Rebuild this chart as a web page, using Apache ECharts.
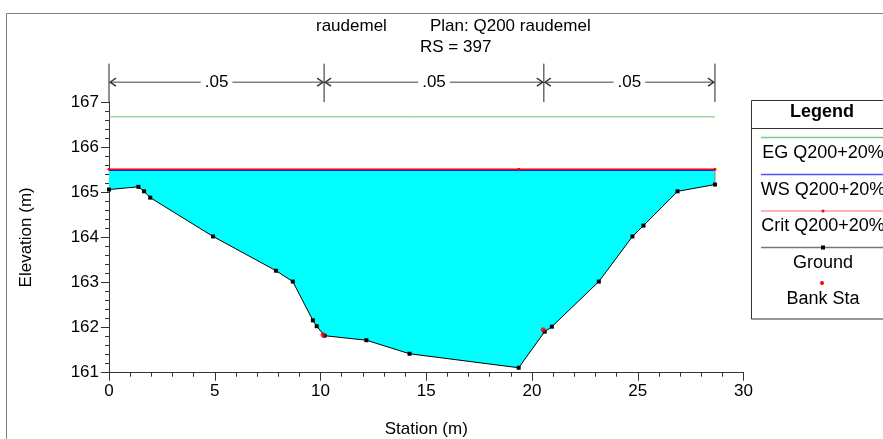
<!DOCTYPE html>
<html>
<head>
<meta charset="utf-8">
<script src="https://cdn.jsdelivr.net/npm/echarts@6/dist/echarts.min.js"></script>
<style>
  html, body { margin: 0; padding: 0; background: #fff; }
  #chart { width: 883px; height: 439px; }
</style>
</head>
<body>
<div id="chart"></div>
<script>
// ground points of the cross section
var stations = [0, 1.39, 1.66, 1.95, 4.92, 7.90, 8.69, 9.64, 9.82, 10.19, 12.17, 14.21, 19.37, 20.60, 20.94, 23.16, 24.75, 25.27, 26.88, 28.65];
var elevations = [165.06, 165.12, 165.02, 164.88, 164.02, 163.26, 163.02, 162.16, 162.03, 161.82, 161.72, 161.42, 161.11, 161.91, 162.02, 163.02, 164.02, 164.26, 165.02, 165.17];
// bank stations
var bankSta = [10.12, 20.53];
var bankElev = [161.84, 161.95];
// water levels
var wsElev = 165.49;
var critElev = 165.51;
var egElev = 166.67;
var critSta = [0, 19.37, 28.65];
// manning n segments
var nStations = [0, 10.17, 20.56, 28.65];
var nValues = ['.05', '.05', '.05'];
var dimY = 167.44, dimTop = 167.85, dimBottom = 167;
// axis ticks
var xTicks = [0, 30, 5];
var yTicks = [161, 167, 1];
// legend rows
var legendNames = ['EG Q200+20%', 'WS Q200+20%', 'Crit Q200+20%', 'Ground', 'Bank Sta'];

var FONT = '"Liberation Sans", Arial, sans-serif';
var xEnd = stations[stations.length - 1];

var ground = stations.map(function (s, i) { return [s, elevations[i]]; });
var banks = bankSta.map(function (s, i) { return [s, bankElev[i]]; });

var myChart = echarts.init(document.getElementById('chart'));

function waterRender(params, api) {
  if (params.dataIndex !== 0) return;
  var pts = [api.coord([0, wsElev]), api.coord([xEnd, wsElev])];
  for (var i = ground.length - 1; i >= 0; i--) {
    pts.push(api.coord(ground[i]));
  }
  return { type: 'polygon', shape: { points: pts }, style: { fill: '#00ffff', stroke: null } };
}

function dimRender(params, api) {
  if (params.dataIndex !== 0) return;
  var children = [];
  var yA = api.coord([0, dimY])[1];
  var yT = api.coord([0, dimTop])[1];
  var yB = api.coord([0, dimBottom])[1];
  nStations.forEach(function (s) {
    var x = api.coord([s, dimY])[0];
    children.push({ type: 'line', shape: { x1: x, y1: yT, x2: x, y2: yB }, style: { stroke: '#222', lineWidth: 1 } });
  });
  for (var i = 0; i < nValues.length; i++) {
    var xa = api.coord([nStations[i], dimY])[0];
    var xb = api.coord([nStations[i + 1], dimY])[0];
    children.push({ type: 'line', shape: { x1: xa + 1, y1: yA, x2: xb - 1, y2: yA }, style: { stroke: '#808080', lineWidth: 1.5 } });
    children.push({ type: 'polyline', shape: { points: [[xa + 7, yA - 4], [xa + 1, yA], [xa + 7, yA + 4]] }, style: { stroke: '#333', fill: null, lineWidth: 1.3 } });
    children.push({ type: 'polyline', shape: { points: [[xb - 7, yA - 4], [xb - 1, yA], [xb - 7, yA + 4]] }, style: { stroke: '#333', fill: null, lineWidth: 1.3 } });
    children.push({
      type: 'text',
      style: {
        text: nValues[i], x: (xa + xb) / 2, y: yA, align: 'center', verticalAlign: 'middle',
        font: '17px ' + FONT, fill: '#000', backgroundColor: '#fff', padding: [0, 4]
      }
    });
  }
  return { type: 'group', children: children };
}

// legend box (drawn as graphic)
var lgX = 751.5, lgCx = 823;
var lgLineY = [137.5, 174.5, 211, 247.5];
var lgTextY = [153, 190, 226, 263, 299];
var legendGraphic = [
  { type: 'rect', shape: { x: 6.5, y: 13.5, width: 1000, height: 1000 }, style: { stroke: '#808080', fill: null, lineWidth: 1 }, z: 0 },
  { type: 'rect', shape: { x: lgX, y: 100.5, width: 200, height: 218.5 }, style: { stroke: '#333', fill: '#fff', lineWidth: 1 } },
  { type: 'line', shape: { x1: lgX, y1: 128.5, x2: 883, y2: 128.5 }, style: { stroke: '#333', lineWidth: 1 } },
  { type: 'text', style: { text: 'Legend', x: lgCx - 1, y: 112, align: 'center', verticalAlign: 'middle', font: 'bold 18px ' + FONT, fill: '#000' } },
  { type: 'line', shape: { x1: 761, y1: lgLineY[0], x2: 883, y2: lgLineY[0] }, style: { stroke: '#80c880', lineWidth: 1.5 } },
  { type: 'line', shape: { x1: 761, y1: lgLineY[1], x2: 883, y2: lgLineY[1] }, style: { stroke: '#5050ff', lineWidth: 1.5 } },
  { type: 'line', shape: { x1: 761, y1: lgLineY[2], x2: 883, y2: lgLineY[2] }, style: { stroke: '#ff9a9a', lineWidth: 1.5 } },
  { type: 'circle', shape: { cx: lgCx, cy: lgLineY[2], r: 1.5 }, style: { fill: '#ff0000' } },
  { type: 'line', shape: { x1: 761, y1: lgLineY[3], x2: 883, y2: lgLineY[3] }, style: { stroke: '#777', lineWidth: 1.5 } },
  { type: 'rect', shape: { x: lgCx - 2, y: lgLineY[3] - 2, width: 4, height: 4 }, style: { fill: '#000' } },
  { type: 'circle', shape: { cx: lgCx - 1, cy: 283, r: 2 }, style: { fill: '#ff0000' } }
];
legendNames.forEach(function (name, i) {
  legendGraphic.push({ type: 'text', style: { text: name, x: lgCx, y: lgTextY[i], align: 'center', verticalAlign: 'middle', font: '18px ' + FONT, fill: '#000' } });
});

myChart.setOption({
  animation: false,
  backgroundColor: '#fff',
  textStyle: { fontFamily: FONT },
  title: [
    { text: 'raudemel', left: 316, top: 18, padding: 0, textStyle: { fontSize: 17, fontWeight: 'normal', color: '#000', fontFamily: FONT } },
    { text: 'Plan: Q200 raudemel', left: 430, top: 18, padding: 0, textStyle: { fontSize: 17, fontWeight: 'normal', color: '#000', fontFamily: FONT } },
    { text: 'RS = 397', left: 420, top: 39, padding: 0, textStyle: { fontSize: 17, fontWeight: 'normal', color: '#000', fontFamily: FONT } }
  ],
  grid: { left: 109, right: 139.5, top: 102, bottom: 66.3, containLabel: false, outerBoundsMode: 'none' },
  xAxis: {
    type: 'value', min: xTicks[0], max: xTicks[1], interval: xTicks[2],
    name: 'Station (m)', nameLocation: 'middle', nameGap: 48,
    nameTextStyle: { fontSize: 17, color: '#000', fontFamily: FONT },
    axisLine: { onZero: false, lineStyle: { color: '#333', width: 1 } },
    axisTick: { length: 8, lineStyle: { color: '#333' } },
    minorTick: { show: true, splitNumber: 5, length: 4, lineStyle: { color: '#333' } },
    axisLabel: { fontSize: 17, color: '#000', margin: 10, fontFamily: FONT },
    splitLine: { show: false }
  },
  yAxis: {
    type: 'value', min: yTicks[0], max: yTicks[1], interval: yTicks[2],
    name: 'Elevation (m)', nameLocation: 'middle', nameGap: 74, nameRotate: 90,
    nameTextStyle: { fontSize: 17, color: '#000', fontFamily: FONT },
    axisLine: { show: true, onZero: false, lineStyle: { color: '#333', width: 1 } },
    axisTick: { show: true, length: 8, lineStyle: { color: '#333' } },
    minorTick: { show: true, splitNumber: 5, length: 4, lineStyle: { color: '#333' } },
    axisLabel: { fontSize: 17, color: '#000', margin: 10, fontFamily: FONT },
    splitLine: { show: false }
  },
  graphic: legendGraphic,
  series: [
    { name: 'water', type: 'custom', renderItem: waterRender, data: [[0, wsElev]], z: 1, silent: true },
    {
      name: 'EG Q200+20%', type: 'line', data: [[0, egElev], [xEnd, egElev]],
      symbol: 'none', lineStyle: { color: '#70c070', width: 1 }, z: 3
    },
    {
      name: 'WS Q200+20%', type: 'line', data: [[0, wsElev], [xEnd, wsElev]],
      symbol: 'none', lineStyle: { color: '#2020ff', width: 1.5 }, z: 3
    },
    {
      name: 'Crit Q200+20%', type: 'line', data: critSta.map(function (s) { return [s, critElev]; }),
      symbol: 'circle', symbolSize: 3, itemStyle: { color: '#ff0000' },
      lineStyle: { color: '#ff0000', width: 1.5 }, z: 4
    },
    {
      name: 'wall', type: 'line', data: [[xEnd, elevations[elevations.length - 1]], [xEnd, wsElev]],
      symbol: 'none', lineStyle: { color: '#808080', width: 1 }, z: 3
    },
    {
      name: 'Ground', type: 'line', data: ground,
      symbol: 'rect', symbolSize: 4, itemStyle: { color: '#000' },
      lineStyle: { color: '#000', width: 1 }, z: 5
    },
    {
      name: 'Bank Sta', type: 'scatter', data: banks,
      symbol: 'circle', symbolSize: 5, itemStyle: { color: '#ff0000' }, z: 6
    },
    { name: 'n', type: 'custom', renderItem: dimRender, data: [[0, dimY]], clip: false, z: 6, silent: true }
  ]
});
</script>
</body>
</html>
